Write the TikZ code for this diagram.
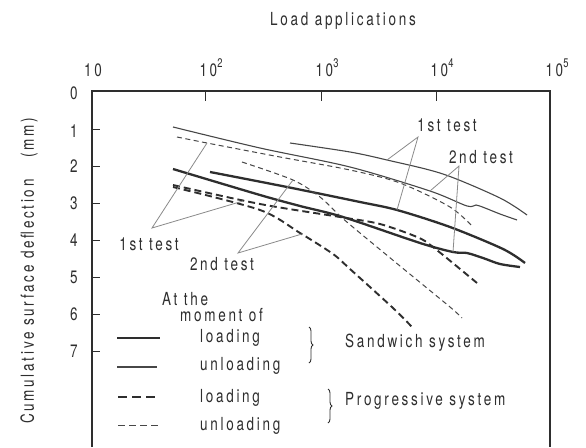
\documentclass[tikz,border=0pt]{standalone}
\usepackage{fontspec}
\setmainfont{TeX Gyre Heros}[FakeStretch=0.75,LetterSpace=15]
\usetikzlibrary{decorations.pathreplacing}
\definecolor{ink}{HTML}{2E2E2E}
\definecolor{thin}{HTML}{474747}
\definecolor{lead}{HTML}{8A8A8A}
\newcommand\supn[1]{\raisebox{0.5em}{\fontsize{12.5}{12.5}\selectfont #1}}
\tikzset{
  axisline/.style={draw=ink, line width=1.5pt},
  tickline/.style={draw=ink, line width=1pt},
  loadS/.style={draw=ink, line width=2.3pt, line join=round},
  unloadS/.style={draw=thin, line width=1.1pt, line join=round},
  loadP/.style={draw=ink, line width=1.9pt, dash pattern=on 7pt off 4pt},
  unloadP/.style={draw=thin, line width=1pt, dash pattern=on 5pt off 3.5pt},
  leader/.style={draw=lead, line width=0.8pt},
  lbl/.style={text=ink, font=\fontsize{18}{21}\selectfont, inner sep=0pt},
  bracebr/.style={draw=ink, line width=0.9pt, decorate, decoration={brace, amplitude=4pt}},
}
\begin{document}
\begin{tikzpicture}[x=1pt,y=-1pt]
\useasboundingbox[fill=white] (0,0) rectangle (586,447);
% axes frame
\coordinate (bl) at (92,447);
\coordinate (tl) at (92,91);
\coordinate (tr) at (550,91);
\coordinate (br) at (550,447);
\draw[axisline] (bl) -- (tl) -- (tr) -- (br);
% top ticks
\foreach \x/\n in {205/t2,321/t3,436/t4}{
  \coordinate (\n a) at (\x,91); \coordinate (\n b) at (\x,101);
  \draw[tickline] (\n a) -- (\n b);}
% left ticks
\foreach \y/\n in {129/l1,166/l2,203/l3,240/l4,277/l5,314/l6,351/l7}{
  \coordinate (\n a) at (92,\y); \coordinate (\n b) at (100,\y);
  \draw[tickline] (\n a) -- (\n b);}
% top labels
\node[lbl] (x1) at (93,70) {10};
\node[lbl] (x2) at (211,68) {10\supn{2}};
\node[lbl] (x3) at (327,68) {10\supn{3}};
\node[lbl] (x4) at (442,68) {10\supn{4}};
\node[lbl] (x5) at (557,68) {10\supn{5}};
\node[lbl] (xlab) at (343,21) {Load applications};
% left labels
\node[lbl] (y0) at (74,93) {0};
\node[lbl] (y1) at (74,131) {1};
\node[lbl] (y2) at (74,166) {2};
\node[lbl] (y3) at (74,203) {3};
\node[lbl] (y4) at (74,240) {4};
\node[lbl] (y5) at (74,277) {5};
\node[lbl] (y6) at (74,314) {6};
\node[lbl] (y7) at (74,351) {7};
\node[lbl, rotate=90] (ylab) at (29,271) {Cumulative surface deflection\hspace{1.2em}(mm)};
% curves: sandwich system
\draw[unloadS] plot[smooth, tension=0.5] coordinates {(290,143) (350,152) (387,160) (443,174) (500,198) (527,215)};
\draw[unloadS] plot[smooth, tension=0.5] coordinates {(173,127) (260,148) (350,167) (430,191) (467,206) (476,205) (485,208) (500,214) (517,220)};
\draw[loadS] plot[smooth, tension=0.5] coordinates {(210,172) (287,187) (360,202) (397,210) (450,227) (503,249) (525,263)};
\draw[loadS] plot[smooth, tension=0.5] coordinates {(173,169) (260,195) (300,206) (343,217) (420,243) (453,252) (467,253) (483,258) (500,264) (520,267)};
% curves: progressive system
\draw[unloadP] plot[smooth, tension=0.5] coordinates {(177,137) (207,143) (280,157) (350,170) (400,183) (450,207) (473,227)};
\draw[unloadP] plot[smooth, tension=0.5] coordinates {(242,162) (293,180) (320,197) (340,216) (360,233) (400,266) (450,307) (462,318)};
\draw[loadP] plot[smooth, tension=0.5] coordinates {(173,185) (260,204) (340,217) (380,224) (417,237) (433,247) (477,283)};
\draw[loadP] plot[smooth, tension=0.5] coordinates {(173,187) (260,210) (300,233) (333,254) (350,269) (393,308) (412,327)};
% labels with leaders
\node[lbl] (ut1) at (447,125) {1st test};
\node[lbl] (ut2) at (481,157) {2nd test};
\node[lbl] (lt1) at (149,244) {1st test};
\node[lbl] (lt2) at (222,264) {2nd test};
\coordinate (ap1) at (418,137);
\coordinate (ap2) at (459,166);
\coordinate (ap3) at (152,228);
\coordinate (ap4) at (238,253);
\coordinate (pA) at (387,160);
\coordinate (pE) at (397,210);
\coordinate (pB) at (430,191);
\coordinate (pF) at (453,252);
\coordinate (pC) at (207,143);
\coordinate (pG) at (243,201);
\coordinate (pD) at (293,180);
\coordinate (pH) at (302,234);
\draw[leader] (pA) -- (ap1) -- (pE);
\draw[leader] (pB) -- (ap2) -- (pF);
\draw[leader] (pC) -- (ap3) -- (pG);
\draw[leader] (pD) -- (ap4) -- (pH);
% legend
\node[lbl, anchor=west] (at) at (162,299) {At the};
\node[lbl, anchor=west] (mo) at (180,315) {moment of};
\coordinate (s1a) at (117,338); \coordinate (s1b) at (160,338);
\coordinate (s2a) at (117,367); \coordinate (s2b) at (157,367);
\coordinate (s3a) at (118,397); \coordinate (s3b) at (158,397);
\coordinate (s4a) at (118,425); \coordinate (s4b) at (158,425);
\draw[loadS] (s1a) -- (s1b);
\draw[unloadS] (s2a) -- (s2b);
\draw[loadP, dash pattern=on 9pt off 5pt] (s3a) -- (s3b);
\draw[unloadP, dash pattern=on 7pt off 4pt] (s4a) -- (s4b);
\node[lbl, anchor=west] (lg1) at (200,338) {loading};
\node[lbl, anchor=west] (lg2) at (200,366) {unloading};
\node[lbl, anchor=west] (lg3) at (200,398) {loading};
\node[lbl, anchor=west] (lg4) at (200,426) {unloading};
\coordinate (b1a) at (309,327); \coordinate (b1b) at (309,363);
\coordinate (b2a) at (328,389); \coordinate (b2b) at (328,423);
\draw[bracebr] (b1a) -- (b1b);
\draw[bracebr] (b2a) -- (b2b);
\node[lbl, anchor=west] (sw) at (345,343) {Sandwich system};
\node[lbl, anchor=west] (pr) at (345,401) {Progressive system};
\end{tikzpicture}
\end{document}
